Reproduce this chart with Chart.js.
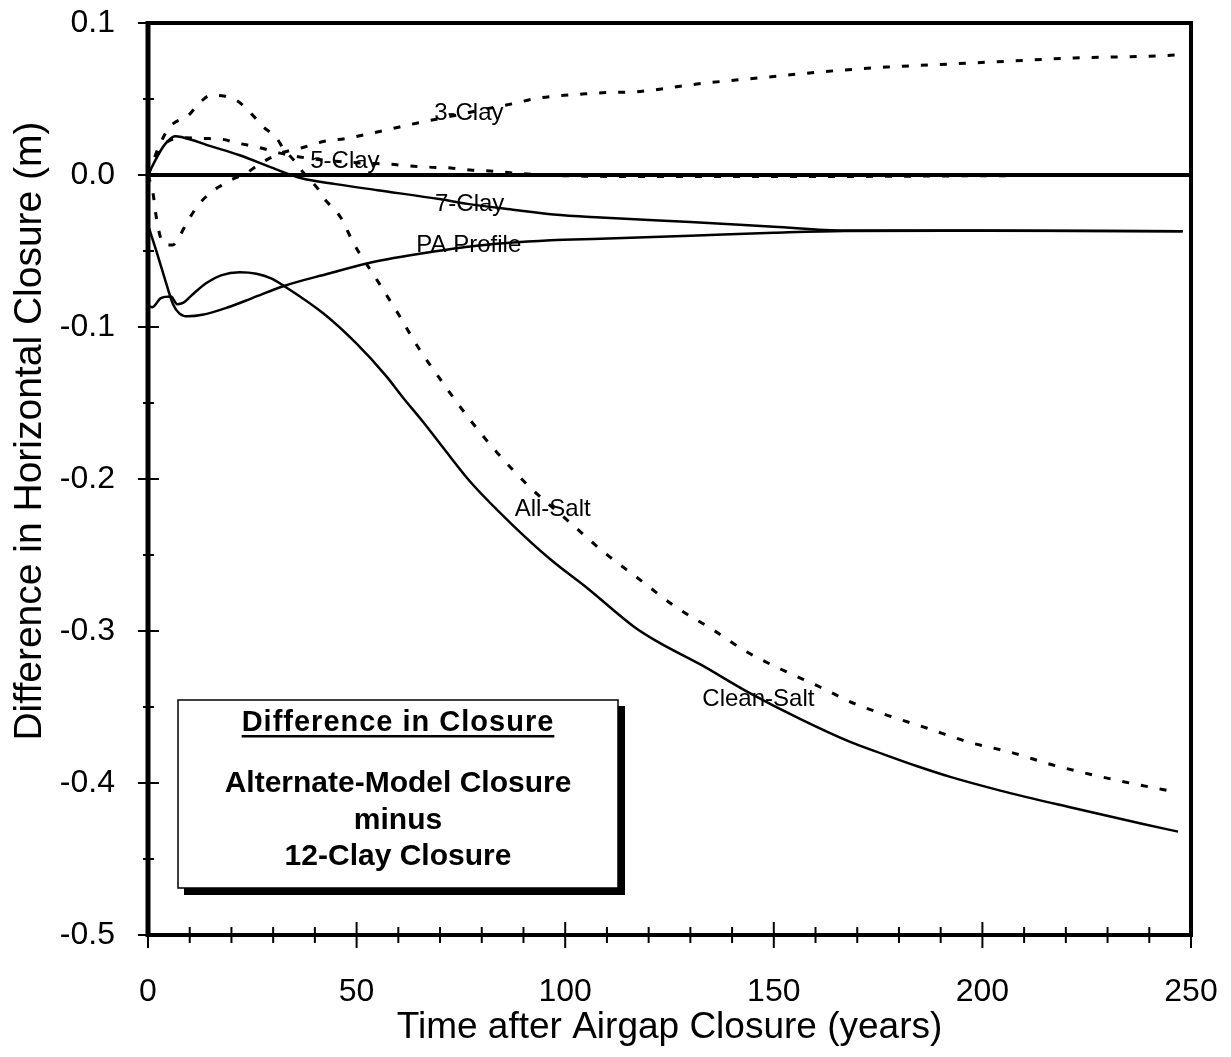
<!DOCTYPE html>
<html><head><meta charset="utf-8">
<script src="https://cdn.jsdelivr.net/npm/chart.js@4/dist/chart.umd.min.js"></script>
<style>html,body{margin:0;padding:0;background:#fff;}</style>
</head><body>
<canvas id="c" width="1231" height="1057"></canvas>
<script>
// ---- tick values ----
const xTicks = [0, 50, 100, 150, 200, 250];
const yTicks = [0.1, 0.0, -0.1, -0.2, -0.3, -0.4, -0.5];

// ---- series: [time (years), difference (m)] ----
const clay3 = [[0,0],[1.2,-0.012],[2,-0.028],[3.1,-0.042],[4.5,-0.046],[6,-0.046],[7.4,-0.041],[9.6,-0.030],[12,-0.020],[14.6,-0.0125],[17.5,-0.007],[20.4,-0.0026],[23.5,0.001],[26.6,0.007],[31.8,0.0144],[36.6,0.0177],[42,0.022],[47.4,0.024],[52.7,0.027],[57.7,0.030],[62.5,0.033],[67.8,0.036],[75,0.040],[82,0.044],[87.6,0.047],[92.4,0.050],[97.7,0.052],[103,0.053],[108,0.054],[118,0.055],[132,0.060],[147,0.064],[162,0.068],[177,0.071],[192,0.073],[207,0.075],[222,0.077],[238,0.078],[247,0.079]];
const clay5 = [[0,0],[2,0.012],[4.3,0.021],[6.5,0.024],[8.6,0.0245],[13.4,0.024],[17.5,0.0236],[21.5,0.021],[26.8,0.018],[31.6,0.0144],[36,0.012],[45,0.009],[52,0.0078],[57.7,0.0072],[62.5,0.006],[67.3,0.0052],[72.6,0.0046],[77.3,0.0033],[82,0.0026],[90,0.0008],[100,-0.0005],[120,-0.001],[160,-0.001],[200,-0.0005],[247,0]];
const clay7 = [[0,0],[2,0.011],[4,0.020],[6.5,0.0255],[8,0.025],[15,0.019],[22,0.013],[30,0.0045],[36.6,-0.002],[45,-0.006],[55,-0.010],[70.2,-0.016],[76.6,-0.019],[88,-0.023],[97.2,-0.026],[108.5,-0.028],[130,-0.031],[150,-0.034],[167,-0.0365],[200,-0.0365],[248,-0.037]];
const paProfile = [[0,-0.033],[2,-0.050],[4,-0.068],[6,-0.085],[7.5,-0.091],[9.6,-0.093],[13,-0.092],[19.2,-0.087],[25,-0.081],[32.6,-0.073],[43.1,-0.065],[52.7,-0.058],[64.7,-0.052],[77.3,-0.047],[96.5,-0.043],[108.5,-0.042],[130,-0.040],[150,-0.038],[167,-0.0368],[200,-0.0366],[248,-0.037]];
const allSalt = [[0,0],[2.5,0.018],[5,0.031],[6.7,0.035],[9.6,0.039],[12.2,0.047],[15.1,0.0525],[18.2,0.052],[21.3,0.049],[25.9,0.037],[27.5,0.032],[30.9,0.024],[32.3,0.018],[35.2,0.009],[37.4,0.001],[40.7,-0.009],[42.1,-0.015],[46.2,-0.028],[49.3,-0.045],[55.1,-0.070],[59.9,-0.091],[64.9,-0.114],[70.2,-0.135],[76.9,-0.160],[83.8,-0.183],[91,-0.204],[101.3,-0.229],[109.2,-0.248],[117.3,-0.265],[126.4,-0.284],[135.3,-0.299],[143.7,-0.314],[151.6,-0.325],[161.2,-0.337],[169.5,-0.348],[176.7,-0.355],[186.8,-0.364],[196.6,-0.373],[207.1,-0.380],[216.7,-0.388],[227,-0.395],[237.1,-0.401],[246.6,-0.406]];
const cleanSalt = [[0,-0.086],[1,-0.087],[3.1,-0.081],[5.5,-0.080],[7,-0.085],[8.5,-0.084],[10.5,-0.079],[14,-0.071],[17.5,-0.066],[22,-0.064],[26,-0.065],[29.5,-0.068],[32.6,-0.073],[42,-0.091],[50,-0.111],[57,-0.132],[61,-0.146],[66.1,-0.163],[70.9,-0.180],[77.3,-0.202],[86.9,-0.229],[96.5,-0.253],[105.4,-0.272],[116.4,-0.297],[122.1,-0.307],[132.4,-0.322],[143.7,-0.340],[156.4,-0.358],[168.3,-0.373],[176.2,-0.381],[184.4,-0.389],[192.3,-0.396],[204.3,-0.405],[221,-0.416],[238.5,-0.427],[246.9,-0.432]];

const seriesNames = ['3-Clay', '5-Clay', '7-Clay', 'PA Profile', 'All-Salt', 'Clean-Salt'];
const seriesData = [clay3, clay5, clay7, paProfile, allSalt, cleanSalt];
const seriesDashed = [true, true, false, false, true, false];
// label anchor points in data units (time, difference)
const labelAnchors = [[76.9,0.0407],[47.2,0.0092],[77.1,-0.019],[76.9,-0.046],[97,-0.220],[146.3,-0.345]];

const noteTitle = 'Difference in Closure';
const noteLines = ['Alternate-Model Closure', 'minus', '12-Clay Closure'];
const xTitle = 'Time after Airgap Closure (years)';
const yTitle = 'Difference in Horizontal Closure (m)';

const FONT = '"Liberation Sans", Arial, Helvetica, sans-serif';
Chart.defaults.font.family = FONT;
Chart.defaults.color = '#000';

const decor = {
  id: 'decor',
  afterDatasetsDraw(chart) {
    const {ctx, scales: {x, y}} = chart;
    ctx.save();
    ctx.fillStyle = '#000';
    ctx.font = '24px ' + FONT;
    ctx.textAlign = 'center';
    ctx.textBaseline = 'middle';
    seriesNames.forEach((n, i) => {
      ctx.fillText(n, x.getPixelForValue(labelAnchors[i][0]), y.getPixelForValue(labelAnchors[i][1]));
    });
    ctx.restore();
  },
  afterDraw(chart) {
    const {ctx, chartArea: a, scales: {x, y}} = chart;
    ctx.save();
    ctx.strokeStyle = '#000';
    // frame
    ctx.lineWidth = 4;
    ctx.strokeRect(a.left, a.top, a.right - a.left, a.bottom - a.top);
    ctx.lineWidth = 5;
    ctx.beginPath(); ctx.moveTo(a.left, a.top - 2); ctx.lineTo(a.left, a.bottom + 2); ctx.stroke();
    // y ticks every 0.05
    ctx.lineWidth = 2;
    for (let i = -10; i <= 2; i++) {
      const major = i % 2 === 0;
      const py = y.getPixelForValue(i * 0.05);
      ctx.beginPath();
      ctx.moveTo(a.left - (major ? 10 : 5), py);
      ctx.lineTo(a.left + (major ? 11 : 6), py);
      ctx.stroke();
    }
    // x ticks every 10
    for (let t = 0; t <= 250; t += 10) {
      const major = t % 50 === 0;
      const px = x.getPixelForValue(t);
      ctx.beginPath();
      ctx.moveTo(px, a.bottom - (major ? 13 : 8));
      ctx.lineTo(px, a.bottom + (major ? 13 : 8));
      ctx.stroke();
    }
    // y title
    ctx.fillStyle = '#000';
    ctx.save();
    ctx.translate(30, 431);
    ctx.rotate(-Math.PI / 2);
    ctx.font = '39px ' + FONT;
    ctx.textAlign = 'center';
    ctx.textBaseline = 'middle';
    ctx.fillText(yTitle, 0, 0);
    ctx.restore();
    // note box with shadow
    const bx = 178, by = 700, bw = 440, bh = 188;
    ctx.fillStyle = '#000';
    ctx.fillRect(bx + bw, by + 6, 7, bh + 1);
    ctx.fillRect(bx + 6, by + bh, bw + 1, 7);
    ctx.fillStyle = '#fff';
    ctx.fillRect(bx, by, bw, bh);
    ctx.lineWidth = 1.5;
    ctx.strokeRect(bx, by, bw, bh);
    ctx.fillStyle = '#000';
    ctx.textAlign = 'center';
    ctx.textBaseline = 'alphabetic';
    const cx = bx + bw / 2;
    ctx.font = 'bold 29px ' + FONT;
    ctx.letterSpacing = '1px';
    ctx.fillText(noteTitle, cx, 731);
    const tw = ctx.measureText(noteTitle).width;
    ctx.fillRect(cx - tw / 2, 735, tw, 2.5);
    ctx.letterSpacing = '0px';
    ctx.font = 'bold 30px ' + FONT;
    const ys = [792, 829, 865];
    noteLines.forEach((s, i) => ctx.fillText(s, cx, ys[i]));
    ctx.restore();
  }
};

new Chart(document.getElementById('c'), {
  type: 'scatter',
  data: {
    datasets: seriesData.map((d, i) => ({
      label: seriesNames[i],
      data: d.map(p => ({x: p[0], y: p[1]})),
      showLine: true,
      borderColor: '#000',
      backgroundColor: '#000',
      borderWidth: seriesDashed[i] ? 3 : 2.5,
      borderDash: seriesDashed[i] ? [7, 12] : [],
      pointRadius: 0,
      cubicInterpolationMode: 'monotone',
      fill: false
    }))
  },
  options: {
    responsive: false,
    animation: false,
    devicePixelRatio: 1,
    layout: {padding: {left: 0, top: 23, right: 40, bottom: 0}},
    plugins: {legend: {display: false}, tooltip: {enabled: false}},
    scales: {
      x: {
        type: 'linear', min: 0, max: 250,
        afterBuildTicks: s => { s.ticks = xTicks.map(v => ({value: v})); },
        afterFit: s => { s.height = 122; s.paddingLeft = 0; s.paddingRight = 0; s.paddingTop = 0; s.paddingBottom = 0; },
        grid: {display: false, drawTicks: false, tickLength: 0},
        border: {display: false},
        ticks: {font: {size: 32}, padding: 38, maxRotation: 0, callback: v => String(v)},
        title: {display: true, text: xTitle, font: {size: 37}, padding: {top: 0, bottom: 7}}
      },
      y: {
        type: 'linear', min: -0.5, max: 0.1,
        afterBuildTicks: s => { s.ticks = yTicks.map(v => ({value: v})); },
        afterFit: s => { s.width = 148; s.paddingLeft = 0; s.paddingRight = 0; s.paddingTop = 0; s.paddingBottom = 0; },
        grid: {
          drawTicks: false, tickLength: 0,
          color: c => (c.tick && Math.abs(c.tick.value) < 1e-9) ? '#000' : 'rgba(0,0,0,0)',
          lineWidth: 4
        },
        border: {display: false},
        ticks: {font: {size: 32}, padding: 33, callback: v => Number(v).toFixed(1)}
      }
    }
  },
  plugins: [decor]
});
</script>
</body></html>
